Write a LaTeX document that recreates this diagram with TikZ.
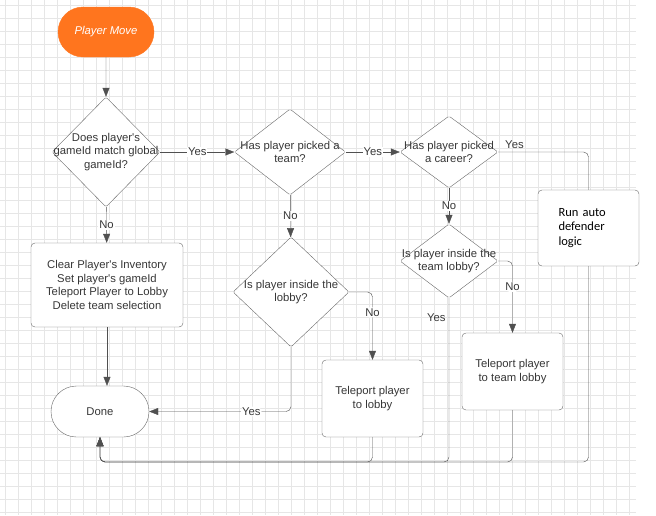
\documentclass[tikz,border=0pt]{standalone}
\usepackage{fontspec}
\setmainfont{Liberation Sans}
\newfontfamily\runfont{Carlito}
\usepackage{tikz}
\usetikzlibrary{shapes.geometric,shapes.misc,arrows.meta}
\definecolor{orng}{RGB}{255,117,30}
\definecolor{edgec}{RGB}{105,105,105}
\definecolor{linec}{RGB}{80,80,80}
\definecolor{txtc}{RGB}{55,55,55}
\definecolor{gridc}{RGB}{230,230,230}
\newcommand\ap{\textquotesingle}

\begin{document}
\begin{tikzpicture}[x=1pt,y=-1pt,
		font=\fontsize{11.3}{13.5}\selectfont, text=txtc,
		box/.style={draw=edgec, fill=white, rounded corners=4pt, align=center, inner sep=2pt},
		term/.style={draw=edgec, fill=white, rounded rectangle, inner sep=2pt},
		dia/.style={draw=edgec, fill=white, diamond, inner sep=0pt, rounded corners=1.5pt},
		qtxt/.style={align=center, inner sep=0pt},
		flow/.style={draw=linec, -{Triangle[length=9pt,width=7pt]}},
		lbl/.style={fill=white, inner sep=1pt}]
		\useasboundingbox (0,0) rectangle (656,515);
		% background grid
		\foreach \i in {0,...,48}
			\draw[gridc, line width=0.5pt] (5+13*\i,0) -- (5+13*\i,515);
		\foreach \j in {0,...,39}
			\draw[gridc, line width=0.5pt] (0,5+13*\j) -- (636,5+13*\j);
		
		\node[term, fill=orng, draw=orng, text=white, font=\fontsize{11.3}{13.5}\selectfont\itshape,
			minimum width=100pt, minimum height=50pt] (start) at (106,32) {Player Move};
		\node[dia, minimum width=108pt, minimum height=110pt,
			label={[qtxt]center:{Does player\ap s\\gameId match global\\gameId?}}] (q1) at (106,152) {};
		\node[dia, minimum width=111pt, minimum height=86pt,
			label={[qtxt]center:{Has player picked a\\team?}}] (q2) at (290,152) {};
		\node[dia, minimum width=98pt, minimum height=72pt,
			label={[qtxt]center:{Has player picked\\a career?}}] (q3) at (449,152) {};
		\node[dia, minimum width=116pt, minimum height=110pt,
			label={[qtxt]center:{Is player inside the\\lobby?}}] (q4) at (291,292) {};
		\node[dia, minimum width=98pt, minimum height=74pt,
			label={[qtxt]center:{Is player inside the\\team lobby?}}] (q5) at (449,261) {};
		
		\node[box, minimum width=152pt, minimum height=84pt] (clear) at (107,285)
			{Clear Player\ap s Inventory\\Set player\ap s gameId\\Teleport Player to Lobby\\Delete team selection};
		\node[term, minimum width=102pt, minimum height=51pt] (done) at (100,411.5) {Done};
		\node[box, minimum width=101pt, minimum height=77pt] (tplobby) at (372.5,398.5) {Teleport player\\to lobby};
		\node[box, minimum width=101pt, minimum height=77pt] (tpteam) at (512.5,371.5) {Teleport player\\to team lobby};
		\node[box, minimum width=101pt, minimum height=76pt, text=black, text width=60pt, align=left,
			font=\runfont\fontsize{12.5}{14.5}\selectfont] (auto) at (588.5,228) {Run auto\\defender\\logic};
		\coordinate (bus) at (0,462);
		
		%\path[flow] (start) edge (q1);
		\draw[flow] (start) -- (q1);
		\draw[flow] (q1) -- node[lbl]{Yes} (q2);
		\draw[flow] (q2) -- node[lbl]{Yes} (q3);
		\draw[draw=linec, rounded corners=5pt] (q3.east) -| node[above, pos=0.09]{Yes} (auto.north);
		\draw[flow] (q1) -- node[lbl]{No} (clear);
		\draw[flow] (clear.south) -- (clear.south |- done.north);
		\draw[flow] (q2) -- node[lbl]{No} (q4);
		\draw[flow, rounded corners=5pt] (q4.east) -| node[lbl, pos=0.65]{No} (tplobby.north);
		\draw[flow, rounded corners=5pt] (q4.south) |- node[lbl, pos=0.64]{Yes} (done.east);
		\draw[flow] (q3) -- node[lbl]{No} (q5);
		\draw[flow, rounded corners=5pt] (q5.east) -| node[lbl, pos=0.68]{No} (tpteam.north);
		\draw[flow, rounded corners=5pt] (q5.south) -- node[left, pos=0.12]{Yes} (q5.south |- bus) -| (done.south);
		\foreach \src in {tplobby,tpteam,auto}
			\draw[flow, rounded corners=5pt] (\src.south) -- (\src.south |- bus) -| (done.south);
\end{tikzpicture}
\end{document}
